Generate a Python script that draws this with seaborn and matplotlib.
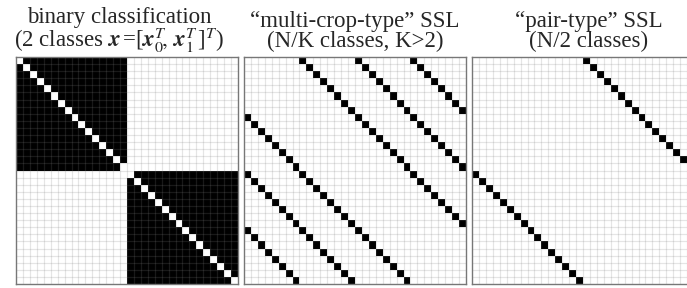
import numpy as np
import matplotlib
matplotlib.use("Agg")
import matplotlib.pyplot as plt
import seaborn as sns

sns.set_theme(style="white")
plt.rcParams["font.family"] = ["Liberation Serif", "DejaVu Serif"]
plt.rcParams["mathtext.fontset"] = "stix"

# ---- data: class label of each of the 32 samples in a batch ----
binary_labels = [0, 0, 0, 0, 0, 0, 0, 0, 0, 0, 0, 0, 0, 0, 0, 0,
                 1, 1, 1, 1, 1, 1, 1, 1, 1, 1, 1, 1, 1, 1, 1, 1]
multicrop_labels = [0, 1, 2, 3, 4, 5, 6, 7, 0, 1, 2, 3, 4, 5, 6, 7,
                    0, 1, 2, 3, 4, 5, 6, 7, 0, 1, 2, 3, 4, 5, 6, 7]
pair_labels = [0, 1, 2, 3, 4, 5, 6, 7, 8, 9, 10, 11, 12, 13, 14, 15,
               0, 1, 2, 3, 4, 5, 6, 7, 8, 9, 10, 11, 12, 13, 14, 15]

titles = [
    "binary classification\n(2 classes $\\mathbfit{x}\\,$=[$\\mathbfit{x}_0^T\\!,\\,\\mathbfit{x}_1^T\\,$]$^T$)",
    "\u201cmulti-crop-type\u201d SSL\n(N/K classes, K>2)",
    "\u201cpair-type\u201d SSL\n(N/2 classes)",
]
title_x = [0.464, 0.5, 0.527]
label_sets = [binary_labels, multicrop_labels, pair_labels]


def positive_matrix(labels):
    lab = np.asarray(labels)
    m = (lab[:, None] == lab[None, :]).astype(float)
    np.fill_diagonal(m, 0.0)
    return m


fig = plt.figure(figsize=(6.87, 2.88), dpi=100)
W, H = 687.0, 288.0
lefts = [16, 244, 472]
pw, top, bottom = 222, 57, 284

for left, labels, title, tx in zip(lefts, label_sets, titles, title_x):
    ax = fig.add_axes([left / W, (H - bottom) / H, pw / W, (bottom - top) / H])
    mat = positive_matrix(labels)
    sns.heatmap(mat, ax=ax, cmap="Greys", vmin=0, vmax=1, cbar=False,
                xticklabels=False, yticklabels=False, square=False)
    n = mat.shape[0]
    for k in range(1, n):
        ax.axhline(k, color="gray", alpha=0.2, lw=0.9)
        ax.axvline(k, color="gray", alpha=0.2, lw=0.9)
    for sp in ax.spines.values():
        sp.set_visible(True)
        sp.set_color("#777777")
        sp.set_linewidth(1.0)
    ax.set_title(title, fontsize=16.5, pad=7, linespacing=0.95, x=tx)

fig.savefig("out.png", dpi=100)
